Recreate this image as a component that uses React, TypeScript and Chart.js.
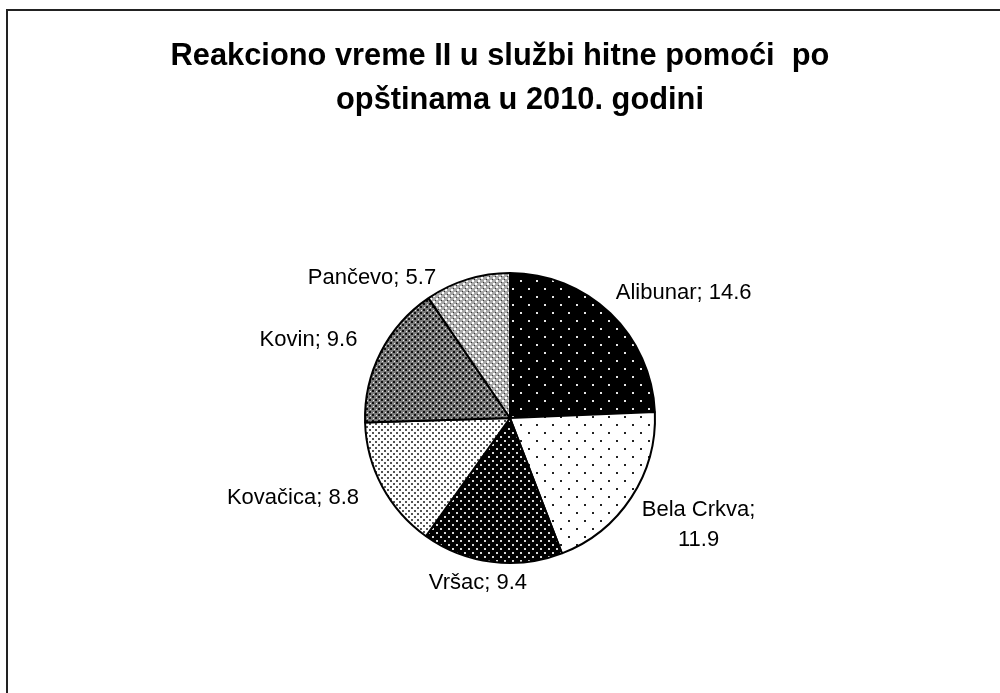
import React, { useEffect, useRef } from "react";
import { Chart, registerables } from "chart.js";

Chart.register(...registerables);

// ---- data ----
const categories = ["Alibunar", "Bela Crkva", "Vršac", "Kovačica", "Kovin", "Pančevo"];
const values = [14.6, 11.9, 9.4, 8.8, 9.6, 5.7];
const valueLabels = ["14.6", "11.9", "9.4", "8.8", "9.6", "5.7"];
const titleLines = ["Reakciono vreme II u službi hitne pomoći  po", "opštinama u 2010. godini"];

// ---- layout / style ----
const wrapLabel = [false, true, false, false, false, false];
const labelNudge: [number, number][] = [
  [-5, -10],
  [-2, 19],
  [-12, 6],
  [-10, 4],
  [-10, -5],
  [-91, 13],
];
const FONT = '"Liberation Sans", Arial, sans-serif';

type Dot = [number, number, number, number, string];
function tile(size: number, bg: string, dots: Dot[]): HTMLCanvasElement {
  const c = document.createElement("canvas");
  c.width = size;
  c.height = size;
  const g = c.getContext("2d")!;
  g.fillStyle = bg;
  g.fillRect(0, 0, size, size);
  for (const [x, y, w, h, col] of dots) {
    g.fillStyle = col;
    g.fillRect(x, y, w, h);
  }
  return c;
}

export default function App() {
  const ref = useRef<HTMLCanvasElement | null>(null);

  useEffect(() => {
    const canvas = ref.current!;
    const ctx = canvas.getContext("2d")!;
    const tiles = [
      tile(16, "#000", [[0, 0, 2, 2, "#e6e6e6"], [8, 8, 2, 2, "#e6e6e6"]]),
      tile(16, "#fff", [[0, 0, 2, 2, "#222"], [8, 8, 2, 2, "#222"]]),
      tile(8, "#000", [[0, 0, 2, 2, "#d8d8d8"], [4, 4, 2, 2, "#d8d8d8"]]),
      tile(6, "#fff", [[0, 0, 2, 2, "#555"], [3, 3, 2, 2, "#555"]]),
      tile(6, "#7a7a7a", [[0, 0, 2, 2, "#111"], [3, 3, 2, 2, "#111"], [4, 1, 1, 1, "#eee"], [1, 4, 1, 1, "#eee"]]),
      tile(6, "#a8a8a8", [[1, 1, 2, 2, "#fff"], [4, 4, 2, 2, "#fff"], [0, 3, 1, 1, "#333"], [3, 0, 1, 1, "#333"]]),
    ];
    const patterns = tiles.map((t) => ctx.createPattern(t, "repeat")!);

    const framePlugin = {
      id: "frameTitle",
      beforeDraw(chart: any) {
        const c = chart.ctx as CanvasRenderingContext2D;
        c.save();
        c.fillStyle = "#fff";
        c.fillRect(0, 0, chart.width, chart.height);
        c.strokeStyle = "#222";
        c.lineWidth = 2;
        c.strokeRect(7, 10, chart.width + 50, chart.height + 50);
        c.fillStyle = "#000";
        c.font = `bold 30.8px ${FONT}`;
        c.textAlign = "center";
        c.textBaseline = "middle";
        c.fillText(titleLines[0], 500, 57);
        c.fillText(titleLines[1], 520, 101);
        c.restore();
      },
    };

    const labelPlugin = {
      id: "sliceLabels",
      afterDatasetsDraw(chart: any) {
        const c = chart.ctx as CanvasRenderingContext2D;
        const meta = chart.getDatasetMeta(0);
        c.save();
        c.font = `22px ${FONT}`;
        c.fillStyle = "#000";
        c.textBaseline = "middle";
        c.textAlign = "center";
        const lineH = 30;
        meta.data.forEach((arc: any, i: number) => {
          const p = arc.getProps(["x", "y", "startAngle", "endAngle", "outerRadius"], true);
          const mid = (p.startAngle + p.endAngle) / 2;
          const d = p.outerRadius + 15;
          const ax = p.x + d * Math.cos(mid);
          const ay = p.y + d * Math.sin(mid);
          const lines = wrapLabel[i]
            ? [categories[i] + ";", valueLabels[i]]
            : [categories[i] + "; " + valueLabels[i]];
          const w = Math.max(...lines.map((l) => c.measureText(l).width));
          const h = lines.length * lineH;
          const cs = Math.cos(mid);
          let left: number;
          if (cs > 0.3) left = ax;
          else if (cs < -0.3) left = ax - w;
          else left = ax - w / 2;
          left += labelNudge[i][0];
          const top = ay - h / 2 + labelNudge[i][1];
          lines.forEach((l, k) => {
            c.fillText(l, left + w / 2, top + lineH * (k + 0.5));
          });
        });
        c.restore();
      },
    };

    const chart = new Chart(canvas, {
      type: "pie",
      data: {
        labels: categories,
        datasets: [
          {
            data: values,
            backgroundColor: patterns as any,
            borderColor: "#000",
            borderWidth: 2,
          },
        ],
      },
      options: {
        responsive: false,
        animation: false,
        layout: { padding: { top: 272, bottom: 129, left: 310, right: 290 } },
        plugins: {
          legend: { display: false },
          tooltip: { enabled: false },
          title: { display: false },
        },
      },
      plugins: [framePlugin, labelPlugin],
    });
    return () => chart.destroy();
  }, []);

  return (
    <div style={{ position: "fixed", left: 0, top: 0, width: 1000, height: 693, background: "#fff" }}>
      <canvas ref={ref} width={1000} height={693} style={{ display: "block", width: 1000, height: 693 }} />
    </div>
  );
}
